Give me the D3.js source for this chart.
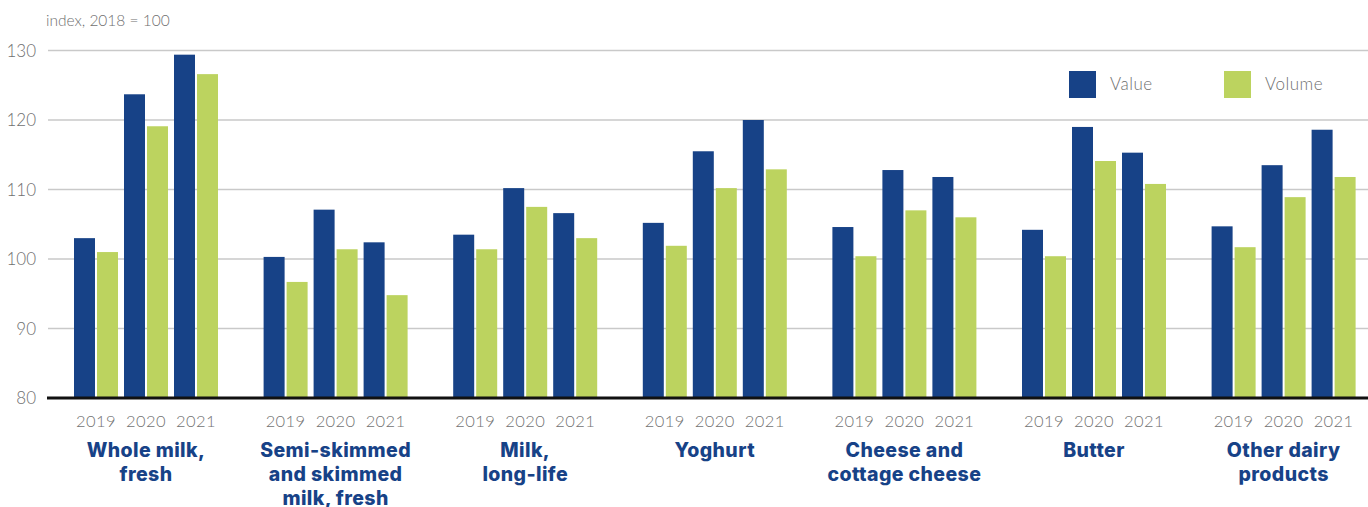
<!DOCTYPE html>
<html>
<head>
<meta charset="utf-8">
<script src="https://cdn.jsdelivr.net/npm/d3@7"></script>
<style>
  html, body { margin: 0; padding: 0; background: #fff; }
  svg { display: block; }
</style>
</head>
<body>
<svg id="chart" width="1368" height="507"></svg>
<script>
const categories = [
  ["Whole milk,", "fresh"],
  ["Semi-skimmed", "and skimmed", "milk, fresh"],
  ["Milk,", "long-life"],
  ["Yoghurt"],
  ["Cheese and", "cottage cheese"],
  ["Butter"],
  ["Other dairy", "products"]
];
const years = ["2019", "2020", "2021"];
const seriesNames = ["Value", "Volume"];
// values per category, per year
const valueSeries = [
  [103.0, 123.7, 129.4],
  [100.3, 107.1, 102.4],
  [103.5, 110.2, 106.6],
  [105.2, 115.5, 120.0],
  [104.6, 112.8, 111.8],
  [104.2, 119.0, 115.3],
  [104.7, 113.5, 118.6]
];
const volumeSeries = [
  [101.0, 119.1, 126.6],
  [96.7, 101.4, 94.8],
  [101.4, 107.5, 103.0],
  [101.9, 110.2, 112.9],
  [100.4, 107.0, 106.0],
  [100.4, 114.1, 110.8],
  [101.7, 108.9, 111.8]
];
const yTicks = [80, 90, 100, 110, 120, 130];
const axisTitle = "index, 2018 = 100";

const colors = { Value: "#174287", Volume: "#bcd35f" };
const svg = d3.select("#chart");

const catIdx = categories.map((c, i) => i);
const y = d3.scaleLinear().domain([80, 130]).range([398, 50.5]);
const x0 = d3.scaleBand().domain(catIdx).range([51.2, 1378.4]).padding(0);
const groupSpan = 144;
const x1 = d3.scaleBand().domain(years)
  .range([(x0.bandwidth() - groupSpan) / 2, (x0.bandwidth() + groupSpan) / 2])
  .paddingInner(0.12).paddingOuter(0);
const x2 = d3.scaleBand().domain(seriesNames).range([0, x1.bandwidth()])
  .paddingInner(2 / 23).paddingOuter(0);

// gridlines
svg.append("g").selectAll("line").data(yTicks.filter(t => t !== 80)).join("line")
  .attr("x1", 48).attr("x2", 1368)
  .attr("y1", d => y(d)).attr("y2", d => y(d))
  .attr("stroke", "#c9c9c9").attr("stroke-width", 1.5);

// y labels
svg.append("g").selectAll("text").data(yTicks).join("text")
  .attr("x", 36).attr("y", d => y(d) + 6)
  .attr("text-anchor", "end")
  .attr("font-family", "Lato, sans-serif").attr("font-weight", 300)
  .attr("font-size", 17).attr("fill", "#6f6f6f")
  .text(d => d);

svg.append("text").attr("x", 46).attr("y", 26)
  .attr("font-family", "Lato, sans-serif").attr("font-weight", 300)
  .attr("font-size", 15.5).attr("fill", "#6f6f6f").text(axisTitle);

// bars
const rows = [];
catIdx.forEach(ci => years.forEach((yr, yi) => {
  rows.push({ ci, yr, s: "Value", v: valueSeries[ci][yi] });
  rows.push({ ci, yr, s: "Volume", v: volumeSeries[ci][yi] });
}));
svg.append("g").selectAll("rect").data(rows).join("rect")
  .attr("x", d => x0(d.ci) + x1(d.yr) + x2(d.s))
  .attr("width", x2.bandwidth())
  .attr("y", d => y(d.v))
  .attr("height", d => y(80) - y(d.v))
  .attr("fill", d => colors[d.s]);

// baseline
svg.append("line").attr("x1", 47).attr("x2", 1368)
  .attr("y1", y(80)).attr("y2", y(80))
  .attr("stroke", "#111").attr("stroke-width", 3);

// year labels
const yl = [];
catIdx.forEach(ci => years.forEach(yr => yl.push({ ci, yr })));
svg.append("g").selectAll("text").data(yl).join("text")
  .attr("x", d => x0(d.ci) + x1(d.yr) + x1.bandwidth() / 2)
  .attr("y", 427)
  .attr("text-anchor", "middle")
  .attr("font-family", "Lato, sans-serif").attr("font-weight", 300)
  .attr("font-size", 16.5).attr("letter-spacing", 0.4).attr("fill", "#727272")
  .text(d => d.yr);

// category labels
const cg = svg.append("g").selectAll("text").data(catIdx).join("text")
  .attr("x", d => x0(d) + x0.bandwidth() / 2)
  .attr("y", 457)
  .attr("text-anchor", "middle")
  .attr("font-family", "Inter, sans-serif").attr("font-weight", 800)
  .attr("font-size", 19.5).attr("letter-spacing", 0.4).attr("fill", "#174287");
cg.selectAll("tspan").data(d => categories[d]).join("tspan")
  .attr("x", function () { return d3.select(this.parentNode).attr("x"); })
  .attr("dy", (d, i) => i === 0 ? 0 : 24)
  .text(d => d);

// legend
const leg = svg.append("g").selectAll("g").data(seriesNames).join("g")
  .attr("transform", (d, i) => `translate(${[1069, 1224][i]},71)`);
leg.append("rect").attr("width", 27).attr("height", 27).attr("fill", d => colors[d]);
leg.append("text").attr("x", 41).attr("y", 19)
  .attr("font-family", "Lato, sans-serif").attr("font-weight", 300)
  .attr("font-size", 17).attr("letter-spacing", 0.5).attr("fill", "#6f6f6f").text(d => d);
</script>
</body>
</html>
